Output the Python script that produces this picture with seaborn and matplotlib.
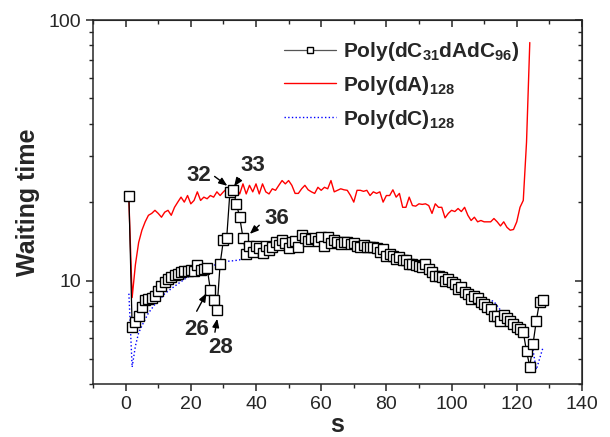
import numpy as np
import pandas as pd
import matplotlib
matplotlib.use("Agg")
import matplotlib.pyplot as plt
import seaborn as sns
from matplotlib.ticker import LogLocator, NullFormatter, MultipleLocator

# waiting time per position s
s_mixed = list(range(1, 129))
wait_mixed = [
    21.2, 6.65, 6.95, 7.3, 7.9, 8.4, 8.5, 8.6, 8.7, 9.15,
    9.55, 9.85, 10.1, 10.3, 10.5, 10.6, 10.8, 10.9, 10.9, 11.0,
    10.9, 11.5, 11.0, 11.1, 11.2, 9.2, 8.38, 7.67, 11.6, 14.3,
    14.5, 21.9, 22.3, 19.7, 17.5, 14.6, 12.6, 13.6, 12.85, 13.6,
    13.3, 12.7, 13.6, 13.1, 13.5, 14.0, 13.7, 14.3, 13.9, 13.35,
    14.0, 14.2, 13.4, 14.9, 14.5, 14.15, 14.4, 14.5, 14.2, 14.66,
    13.6, 14.66, 13.95, 14.3, 14.0, 13.8, 14.1, 14.0, 13.8, 13.9,
    13.6, 13.5, 13.7, 13.4, 13.5, 13.4, 13.35, 12.85, 13.2, 12.37,
    12.66, 12.4, 12.1, 12.3, 12.0, 11.94, 11.6, 11.6, 11.5, 11.4,
    11.3, 11.6, 11.1, 10.76, 10.45, 10.45, 10.3, 10.0, 10.15, 9.85,
    9.7, 9.3, 9.4, 9.0, 8.87, 8.5, 8.75, 8.6, 8.25, 8.1,
    7.9, 7.8, 7.33, 7.33, 7.0, 7.4, 7.2, 7.0, 6.8, 6.6,
    6.5, 6.33, 5.35, 4.67, 5.7, 7.0, 8.3, 8.4,
]

s_dA = list(range(1, 125))
wait_dA = [
    20.5, 8.6, 11.5, 14.0, 15.6, 16.8, 17.8, 18.1, 18.6, 18.1,
    17.5, 18.3, 18.6, 17.8, 19.1, 20.0, 20.9, 20.0, 21.2, 19.7,
    20.3, 21.9, 20.3, 20.9, 20.6, 21.2, 20.9, 21.9, 21.2, 21.9,
    22.5, 21.9, 21.2, 22.5, 21.5, 23.5, 21.5, 23.2, 21.9, 23.5,
    21.5, 23.5, 21.9, 21.5, 22.5, 22.2, 23.2, 24.2, 23.5, 24.2,
    23.2, 21.6, 21.6, 22.5, 23.2, 22.3, 21.9, 21.6, 22.8, 22.2,
    22.8, 22.5, 24.2, 21.9, 22.2, 22.5, 22.3, 22.2, 21.2, 20.0,
    22.2, 22.2, 22.0, 22.2, 21.2, 21.9, 21.6, 21.9, 20.0, 21.2,
    21.2, 22.3, 20.9, 21.6, 19.1, 19.1, 20.9, 19.4, 19.3, 19.7,
    19.6, 19.7, 19.4, 18.1, 19.7, 19.1, 19.1, 17.4, 18.1, 18.6,
    18.4, 18.9, 18.4, 19.1, 17.8, 17.0, 17.5, 16.8, 17.0, 16.8,
    16.8, 16.8, 17.3, 16.8, 16.2, 16.8, 16.0, 15.6, 15.7, 16.8,
    19.1, 20.3, 34.0, 82.0,
]

s_dC = list(range(1, 129))
wait_dC = [
    8.9, 4.65, 5.6, 6.3, 6.7, 7.1, 7.5, 7.8, 8.1, 8.4,
    8.6, 8.9, 9.1, 9.3, 9.5, 9.7, 9.9, 10.1, 10.3, 10.4,
    10.5, 10.6, 10.8, 10.9, 11.0, 11.2, 11.4, 11.6, 11.7, 11.8,
    11.8, 11.9, 11.9, 11.95, 12.0, 12.3, 12.6, 12.8, 13.0, 13.1,
    13.2, 13.3, 13.3, 13.5, 13.6, 13.8, 13.9, 14.0, 13.9, 14.1,
    14.2, 14.3, 14.2, 14.4, 14.3, 14.5, 14.4, 14.6, 14.4, 14.5,
    14.3, 14.6, 14.4, 14.3, 14.2, 14.1, 14.2, 14.0, 13.9, 13.8,
    13.7, 13.7, 13.5, 13.4, 13.3, 13.2, 13.0, 12.9, 12.8, 12.6,
    12.4, 12.3, 12.1, 12.0, 11.8, 11.6, 11.5, 11.3, 11.2, 11.0,
    10.9, 10.7, 10.6, 10.4, 10.3, 10.1, 10.0, 9.9, 9.8, 9.9,
    9.85, 9.8, 9.6, 9.4, 9.3, 9.1, 8.9, 8.8, 8.6, 8.5,
    8.4, 8.4, 8.3, 8.0, 7.7, 7.5, 7.4, 7.2, 7.0, 6.9,
    6.7, 6.5, 6.3, 6.0, 5.4, 4.55, 5.0, 5.5,
]

# arrow labels: (text, text xy, arrow tail, arrow head)
callouts = [
    ("32", (22.6, 25.4), (27.3, 25.1), (31.2, 23.1)),
    ("33", (39.1, 27.7), (34.9, 24.6), (33.3, 23.0)),
    ("36", (46.3, 17.3), (41.0, 16.3), (38.1, 15.1)),
    ("26", (21.8, 6.46), (21.8, 7.62), (24.8, 8.94)),
    ("28", (29.1, 5.51), (27.4, 6.33), (28.1, 7.13)),
]

sns.set_style("ticks")
plt.rcParams["font.family"] = ["Liberation Sans", "DejaVu Sans"]
plt.rcParams["mathtext.default"] = "regular"

fig = plt.figure(figsize=(6.1, 4.37), dpi=100)
ax = fig.add_axes([0.1525, 0.121, 0.8015, 0.833])

sns.lineplot(x=s_dC, y=wait_dC, ax=ax, color="blue", linestyle=":", lw=1.0,
             label=r"Poly(dC)$_{128}$", zorder=2)
sns.lineplot(x=s_dA, y=wait_dA, ax=ax, color="red", lw=1.0,
             label=r"Poly(dA)$_{128}$", zorder=3)
sns.lineplot(x=s_mixed, y=wait_mixed, ax=ax, color="black", lw=0.9,
             marker="s", markersize=6.5, markerfacecolor="white",
             markeredgecolor="black", markeredgewidth=1.0,
             label=r"Poly(dC$_{31}$dAdC$_{96}$)", zorder=4)

ax.set_yscale("log")
ax.set_xlim(-10, 140)
ax.set_ylim(4, 100)
ax.xaxis.set_major_locator(MultipleLocator(20))
ax.xaxis.set_minor_locator(MultipleLocator(10))
ax.yaxis.set_major_locator(LogLocator(base=10))
ax.yaxis.set_minor_locator(LogLocator(base=10, subs=np.arange(2, 10)))
ax.yaxis.set_minor_formatter(NullFormatter())
ax.set_yticks([10, 100])
ax.set_yticklabels(["10", "100"])

ax.tick_params(which="major", direction="out", length=5, width=1.1, labelsize=14)
ax.tick_params(which="minor", direction="out", length=3, width=1.0)
for sp in ax.spines.values():
    sp.set_linewidth(1.1)

# inward ticks on top and right
top = ax.secondary_xaxis("top")
top.xaxis.set_major_locator(MultipleLocator(20))
top.xaxis.set_minor_locator(MultipleLocator(10))
top.tick_params(which="major", direction="in", length=5, width=1.1, labeltop=False)
top.tick_params(which="minor", direction="in", length=3, width=1.0)
right = ax.secondary_yaxis("right")
right.set_yscale("log")
right.yaxis.set_major_locator(LogLocator(base=10))
right.yaxis.set_minor_locator(LogLocator(base=10, subs=np.arange(2, 10)))
right.tick_params(which="major", direction="in", length=5, width=1.1, labelright=False)
right.tick_params(which="minor", direction="in", length=3, width=1.0)
right.yaxis.set_minor_formatter(NullFormatter())

ax.set_xlabel("s", fontsize=18, fontweight="bold", labelpad=0)
ax.set_ylabel("Waiting time", fontsize=18, fontweight="bold", labelpad=6)

for txt, pos, tail, head in callouts:
    ax.text(pos[0], pos[1], txt, fontsize=16, fontweight="bold",
            ha="center", va="center", zorder=6)
    ax.annotate("", xy=head, xytext=tail,
                arrowprops=dict(arrowstyle="-|>,head_length=0.5,head_width=0.2",
                                color="black", lw=1.0, shrinkA=0, shrinkB=0),
                zorder=6)

handles, labels = ax.get_legend_handles_labels()
order = [2, 1, 0]
leg = ax.legend([handles[i] for i in order], [labels[i] for i in order],
                loc="upper left", bbox_to_anchor=(0.365, 0.98), frameon=False,
                prop={"size": 15, "weight": "bold"}, handlelength=2.5,
                handletextpad=0.35, labelspacing=0.52, borderaxespad=0.2,
                markerscale=0.7)
leg.get_lines()[0].set_color("#555555")

fig.savefig("out.png", dpi=100)
